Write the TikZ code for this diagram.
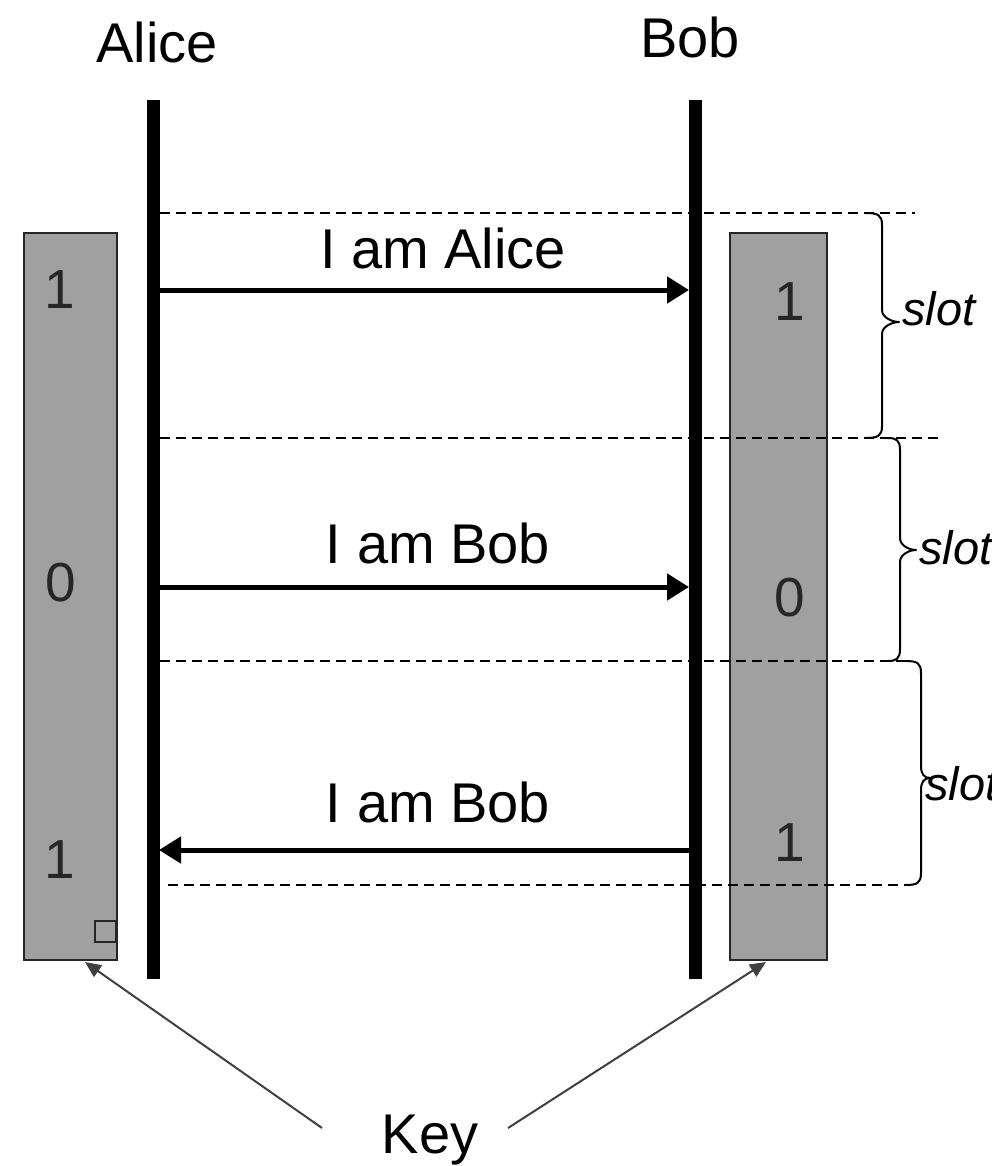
\documentclass[tikz,border=0pt]{standalone}
\usepackage{fontspec}
\setmainfont{Liberation Sans}
\usetikzlibrary{arrows.meta}
\definecolor{boxgray}{HTML}{A0A0A0}
\definecolor{keygray}{HTML}{404040}
\tikzset{
  lbl/.style={font=\fontsize{56}{60}\selectfont, inner sep=0pt, anchor=base},
  digit/.style={font=\fontsize{55}{60}\selectfont, inner sep=0pt, anchor=base, text=black!85},
  slotlbl/.style={font=\fontsize{47}{50}\selectfont\itshape, inner sep=0pt, anchor=base west},
  lifeline/.style={line width=13pt},
  msg/.style={line width=5pt, -{Triangle[length=22pt,width=26pt]}},
  slotline/.style={line width=2pt, dash pattern=on 10pt off 6pt},
  keybox/.style={draw=black!85, line width=2pt, fill=boxgray, minimum height=727pt, inner sep=0pt},
  keyarrow/.style={draw=keygray, line width=2pt, -{Triangle[length=16pt,width=14pt]}},
  bracestyle/.style={line width=2pt, line join=round}
}
\newcommand{\slotbrace}[6]{% end x, vertical x, tip x, top y, bottom y, mid y
  \draw[bracestyle] (#1,#4) .. controls (#2-4,#4) and (#2,#4+2) .. (#2,#4+12)
    -- (#2,#6-12) .. controls (#2,#6-4) and (#3-6,#6) .. (#3,#6)
    .. controls (#3-6,#6) and (#2,#6+4) .. (#2,#6+12)
    -- (#2,#5-12) .. controls (#2,#5-2) and (#2-4,#5) .. (#1,#5);
}
\begin{document}
\begin{tikzpicture}[x=1pt,y=-1pt]
\useasboundingbox (0,0) rectangle (992,1166);

% key boxes
\node[keybox, minimum width=93pt] (kA) at (70.5,596.5) {};
\node[keybox, minimum width=97pt] (kB) at (778.5,596.5) {};
\node[draw=black!85, line width=2pt, fill=boxgray, minimum width=21pt, minimum height=21pt, inner sep=0pt, anchor=south east] (sq) at (117,943) {};

% slot separators
\coordinate (d1a) at (160,213); \coordinate (d1b) at (915,213);
\coordinate (d2a) at (160,438); \coordinate (d2b) at (940,438);
\coordinate (d3a) at (160,661); \coordinate (d3b) at (906,661);
\coordinate (d4a) at (168,885); \coordinate (d4b) at (906,885);
\draw[slotline] (d1a) -- (d1b);
\draw[slotline] (d2a) -- (d2b);
\draw[slotline] (d3a) -- (d3b);
\draw[slotline] (d4a) -- (d4b);

% lifelines
\coordinate (aTop) at (153,100); \coordinate (aBot) at (153,979);
\coordinate (bTop) at (695,100); \coordinate (bBot) at (695,979);
\draw[lifeline] (aTop) -- (aBot);
\draw[lifeline] (bTop) -- (bBot);

\node[lbl] (alice) at (157,63) {Alice};
\node[lbl] (bob) at (690,58) {Bob};

% messages
\coordinate (m1a) at (160,290); \coordinate (m1b) at (689,290);
\coordinate (m2a) at (160,587); \coordinate (m2b) at (689,587);
\coordinate (m3a) at (689,850); \coordinate (m3b) at (159,850);
\draw[msg] (m1a) -- (m1b);
\draw[msg] (m2a) -- (m2b);
\draw[msg] (m3a) -- (m3b);
\node[lbl] (t1) at (443,269) {I am Alice};
\node[lbl] (t2) at (438,563) {I am Bob};
\node[lbl] (t3) at (438,822) {I am Bob};

% key bits
\node[digit] (a1) at (60,308) {1};
\node[digit] (a2) at (61,601) {0};
\node[digit] (a3) at (60,878) {1};
\node[digit] (b1) at (790,320) {1};
\node[digit] (b2) at (790,616) {0};
\node[digit] (b3) at (790,861) {1};

% braces
\slotbrace{865}{882}{899}{213}{438}{322}
\slotbrace{888}{900}{916}{438}{661}{550}
\slotbrace{906}{921}{930}{661}{885}{778}
\node[slotlbl] (s1) at (902,325) {slot};
\node[slotlbl] (s2) at (919,564) {slot};
\node[slotlbl] (s3) at (925,800) {slot};

% key
\node[lbl] (key) at (430,1153) {Key};
\coordinate (kl) at (322,1128); \coordinate (kr) at (508,1128);
\coordinate (kAt) at (85,962); \coordinate (kBt) at (766,962);
\draw[keyarrow] (kl) -- (kAt);
\draw[keyarrow] (kr) -- (kBt);
\end{tikzpicture}
\end{document}
